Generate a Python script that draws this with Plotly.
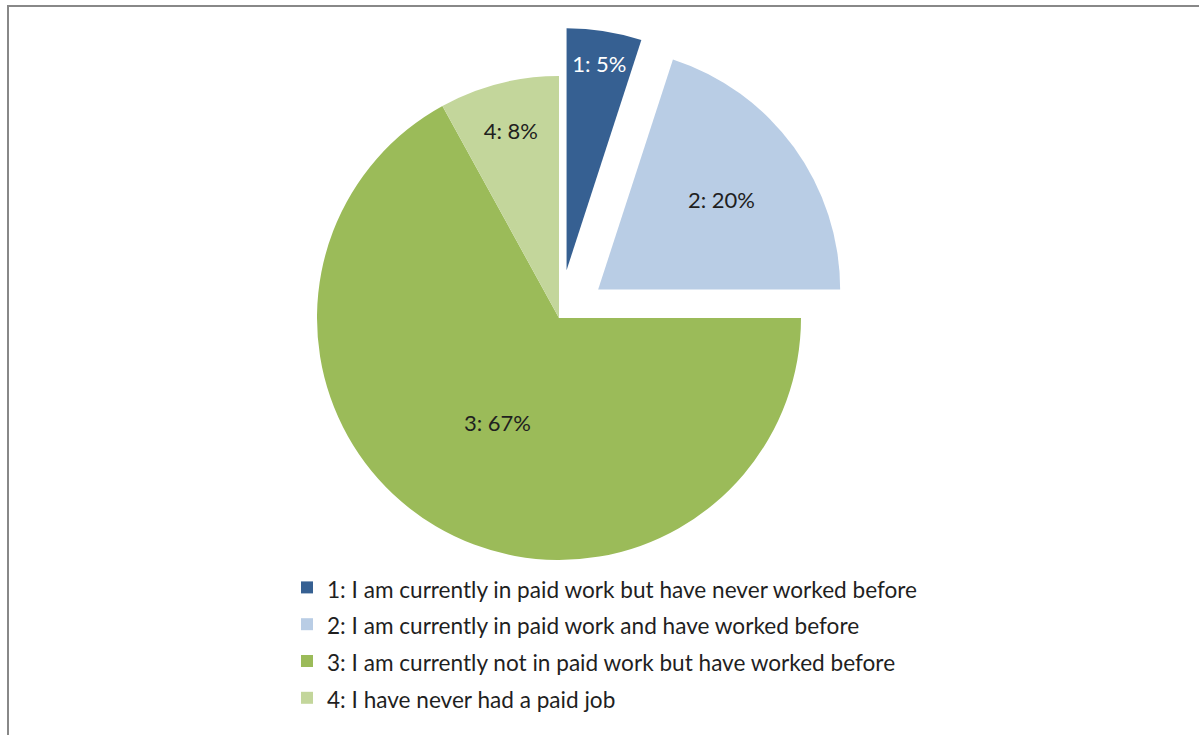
import plotly.graph_objects as go

# Survey responses on paid work
codes = ["1", "2", "3", "4"]
categories = [
    "I am currently in paid work but have never worked before",
    "I am currently in paid work and have worked before",
    "I am currently not in paid work but have worked before",
    "I have never had a paid job",
]
shares = [5, 20, 67, 8]
pulls = [0.2, 0.2, 0, 0]
colors = ["#366092", "#B9CDE5", "#9BBB59", "#C3D69B"]
text_colors = ["#FFFFFF", "#1F1F1F", "#1F1F1F", "#1F1F1F"]

W, H = 1199, 735
legend_labels = [f'<span style="font-size:22.6px">{c}: {t}</span>' for c, t in zip(codes, categories)]

fig = go.Figure(
    go.Pie(
        labels=legend_labels,
        values=shares,
        text=codes,
        texttemplate="%{text}: %{percent}",
        textposition="inside",
        insidetextorientation="horizontal",
        textfont=dict(family="Lato", size=22, color=text_colors),
        marker=dict(colors=colors, line=dict(width=0)),
        pull=pulls,
        sort=False,
        direction="clockwise",
        rotation=0,
        hoverinfo="skip",
        domain=dict(x=[(559 - 290.4) / W, (559 + 290.4) / W],
                    y=[1 - 608.4 / H, 1 - 27.6 / H]),
    )
)

fig.update_layout(
    width=W,
    height=H,
    margin=dict(l=0, r=0, t=0, b=0),
    paper_bgcolor="white",
    plot_bgcolor="white",
    font=dict(family="Lato", color="#1F1F1F"),
    showlegend=True,
    legend=dict(
        x=287 / W,
        y=1 - 564 / H,
        xanchor="left",
        yanchor="top",
        font=dict(family="Lato", size=26, color="#1F1F1F"),
        bgcolor="rgba(0,0,0,0)",
    ),
    shapes=[
        dict(
            type="rect",
            xref="paper",
            yref="paper",
            x0=8 / W,
            x1=1.02,
            y0=-0.02,
            y1=1 - 6 / H,
            line=dict(color="#888888", width=2),
            fillcolor="rgba(0,0,0,0)",
            layer="above",
        )
    ],
)

fig.write_html("out.html")
